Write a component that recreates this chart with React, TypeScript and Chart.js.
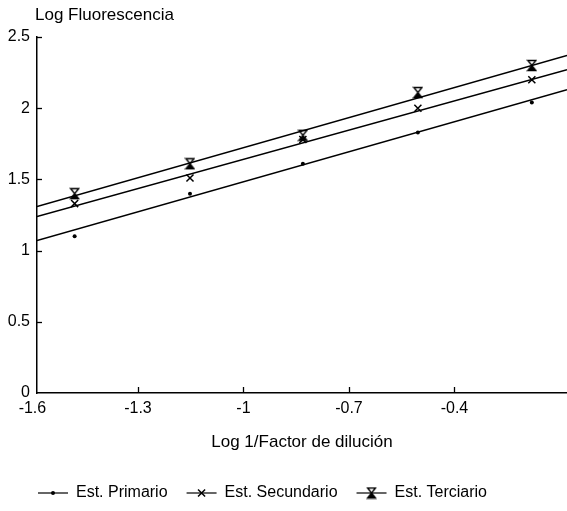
import React, { useEffect, useRef } from "react";
import { Chart, registerables } from "chart.js";

Chart.register(...registerables);

// ---- data ----
const xValues = [-1.48, -1.152, -0.831, -0.504, -0.18];
const primario = [1.1, 1.4, 1.61, 1.83, 2.04];
const secundario = [1.33, 1.51, 1.78, 2.0, 2.2];
const terciario = [1.4, 1.61, 1.81, 2.11, 2.3];

const xMin = -1.587;
const xMax = -0.08;
const fitX = [-1.587, -0.08];
const fitPrimario = [1.07, 2.13];
const fitSecundario = [1.24, 2.27];
const fitTerciario = [1.31, 2.37];

const xTickValues = [-1.6, -1.3, -1, -0.7, -0.4];
const xTickLabels = ["-1.6", "-1.3", "-1", "-0.7", "-0.4"];
const yTickValues = [0, 0.5, 1, 1.5, 2, 2.5];
const yTickLabels = ["0", "0.5", "1", "1.5", "2", "2.5"];

const seriesNames = ["Est. Primario", "Est. Secundario", "Est. Terciario"];
const xTitle = "Log 1/Factor de dilución";
const yTitle = "Log Fluorescencia";

const FONT = '"Liberation Sans", Arial, sans-serif';

function makeHourglass(): HTMLCanvasElement {
  const c = document.createElement("canvas");
  c.width = 11;
  c.height = 13;
  const g = c.getContext("2d")!;
  g.strokeStyle = "#000";
  g.fillStyle = "#000";
  g.lineWidth = 1.4;
  g.beginPath();
  g.moveTo(1.5, 1.5);
  g.lineTo(9.5, 1.5);
  g.lineTo(1.5, 11.5);
  g.lineTo(9.5, 11.5);
  g.closePath();
  g.stroke();
  g.beginPath();
  g.moveTo(5.5, 6.5);
  g.lineTo(2, 11.5);
  g.lineTo(9, 11.5);
  g.closePath();
  g.fill();
  return c;
}

function drawMarker(ctx: CanvasRenderingContext2D, kind: number, cx: number, cy: number, img: HTMLCanvasElement) {
  ctx.save();
  ctx.strokeStyle = "#000";
  ctx.fillStyle = "#000";
  if (kind === 0) {
    ctx.beginPath();
    ctx.arc(cx, cy, 2, 0, Math.PI * 2);
    ctx.fill();
  } else if (kind === 1) {
    const r = 5 * Math.SQRT1_2;
    ctx.lineWidth = 1.5;
    ctx.beginPath();
    ctx.moveTo(cx - r, cy - r);
    ctx.lineTo(cx + r, cy + r);
    ctx.moveTo(cx + r, cy - r);
    ctx.lineTo(cx - r, cy + r);
    ctx.stroke();
  } else {
    ctx.drawImage(img, cx - img.width / 2, cy - img.height / 2);
  }
  ctx.restore();
}

export default function App() {
  const ref = useRef<HTMLCanvasElement | null>(null);

  useEffect(() => {
    if (!ref.current) return;
    const hourglass = makeHourglass();

    const pts = (xs: number[], ys: number[]) => xs.map((x, i) => ({ x, y: ys[i] }));

    const decor = {
      id: "decor",
      afterDraw(chart: any) {
        const { ctx, chartArea: ca, scales } = chart;
        const x = scales.x;
        const y = scales.y;
        ctx.save();
        ctx.strokeStyle = "#000";
        ctx.lineWidth = 1.3;
        xTickValues.forEach((v) => {
          const px = Math.round(x.getPixelForValue(v)) + 0.5;
          if (px - ca.left < 3) return;
          ctx.beginPath();
          ctx.moveTo(px, ca.bottom);
          ctx.lineTo(px, ca.bottom - 6);
          ctx.stroke();
        });
        yTickValues.forEach((v) => {
          const py = Math.round(y.getPixelForValue(v)) + 0.5;
          if (ca.bottom - py < 3) return;
          ctx.beginPath();
          ctx.moveTo(ca.left, py);
          ctx.lineTo(ca.left + 5, py);
          ctx.stroke();
        });
        // y axis title at top-left
        ctx.fillStyle = "#000";
        ctx.font = `17px ${FONT}`;
        ctx.textBaseline = "middle";
        ctx.textAlign = "left";
        ctx.fillText(yTitle, ca.left - 2, ca.top - 22);

        // legend
        ctx.font = `16px ${FONT}`;
        const ly = ca.bottom + 100;
        let lx = 38;
        seriesNames.forEach((name, i) => {
          ctx.lineWidth = 1.2;
          ctx.beginPath();
          ctx.moveTo(lx, ly);
          ctx.lineTo(lx + 30, ly);
          ctx.stroke();
          drawMarker(ctx, i, lx + 15, ly, hourglass);
          ctx.fillText(name, lx + 38, ly);
          lx += 38 + ctx.measureText(name).width + 19;
        });
        ctx.restore();
      },
    };

    const lineDs = (data: number[]) => ({
      data: pts(fitX, data),
      showLine: true,
      borderColor: "#000",
      borderWidth: 1.5,
      pointRadius: 0,
      fill: false,
    });

    const chart = new Chart(ref.current, {
      type: "scatter",
      data: {
        datasets: [
          {
            label: seriesNames[0],
            data: pts(xValues, primario),
            pointStyle: "circle",
            pointRadius: 2,
            backgroundColor: "#000",
            borderColor: "#000",
            borderWidth: 0,
          },
          {
            label: seriesNames[1],
            data: pts(xValues, secundario),
            pointStyle: "crossRot",
            pointRadius: 5,
            borderColor: "#000",
            borderWidth: 1.5,
          },
          {
            label: seriesNames[2],
            data: pts(xValues, terciario),
            pointStyle: hourglass,
            pointRadius: 6,
            borderColor: "#000",
          },
          lineDs(fitPrimario),
          lineDs(fitSecundario),
          lineDs(fitTerciario),
        ] as any,
      },
      options: {
        animation: false,
        responsive: false,
        layout: { autoPadding: false, padding: { top: 37, right: 0, bottom: 58, left: 0 } },
        plugins: {
          legend: { display: false },
          tooltip: { enabled: false },
          title: { display: false },
        },
        scales: {
          x: {
            type: "linear",
            min: xMin,
            max: xMax,
            grid: { display: false, drawTicks: false },
            border: { display: true, color: "#000", width: 1.5 },
            afterBuildTicks: (s: any) => {
              s.ticks = xTickValues.map((v) => ({ value: v }));
            },
            afterFit: (s: any) => {
              s.height = 60;
              s.paddingRight = 0;
              s.paddingLeft = 0;
            },
            ticks: {
              color: "#000",
              font: { family: FONT, size: 16 },
              padding: 6,
              maxRotation: 0,
              autoSkip: false,
              callback: (v: any) => {
                const i = xTickValues.findIndex((t) => Math.abs(t - Number(v)) < 1e-6);
                return i >= 0 ? xTickLabels[i] : "";
              },
            },
            title: {
              display: true,
              text: xTitle,
              color: "#000",
              font: { family: FONT, size: 17 },
              padding: { top: 0, bottom: 0 },
            },
          },
          y: {
            type: "linear",
            min: 0,
            max: 2.5,
            grid: { display: false, drawTicks: false },
            border: { display: true, color: "#000", width: 1.5 },
            afterBuildTicks: (s: any) => {
              s.ticks = yTickValues.map((v) => ({ value: v }));
            },
            afterFit: (s: any) => {
              s.width = 37;
            },
            ticks: {
              color: "#000",
              font: { family: FONT, size: 16 },
              padding: 7,
              autoSkip: false,
              callback: (v: any) => {
                const i = yTickValues.findIndex((t) => Math.abs(t - Number(v)) < 1e-6);
                return i >= 0 ? yTickLabels[i] : "";
              },
            },
          },
        },
      } as any,
      plugins: [decor],
    });

    return () => chart.destroy();
  }, []);

  return (
    <div style={{ position: "fixed", left: 0, top: 0, width: 567, height: 511, background: "#fff" }}>
      <canvas ref={ref} width={567} height={511} style={{ display: "block" }} />
    </div>
  );
}
